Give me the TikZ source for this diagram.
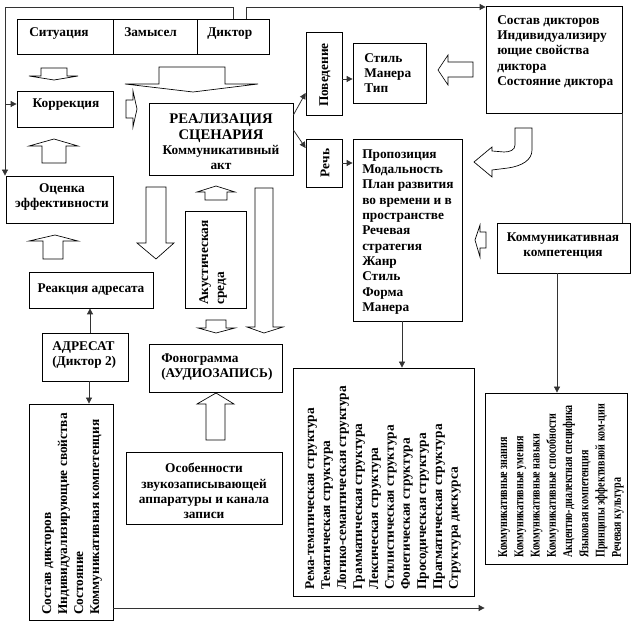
\documentclass[tikz,border=0pt]{standalone}
\usepackage{fontspec}
\setmainfont{Liberation Serif}
\newfontfamily\condfont[FakeStretch=0.75]{Liberation Serif Bold}
\usetikzlibrary{arrows.meta,fit}
\begin{document}
\begin{tikzpicture}[x=0.75pt,y=-0.75pt,
  box/.style={draw, line width=0.6pt, inner sep=0pt},
  txt/.style={font=\fontsize{10}{11.5}\selectfont\bfseries, inner sep=0pt},
  rtxt/.style={font=\fontsize{10}{12}\selectfont\bfseries, inner sep=0pt, rotate=90, anchor=north west, align=left},
  conn/.style={draw=black!80, line width=0.6pt, -{Triangle[length=4.5pt,width=4.5pt]}},
  plain/.style={draw=black!80, line width=0.6pt},
  hollow/.style={draw, line width=0.5pt, fill=white}]
\useasboundingbox (0,0) rectangle (640,627);

% ---- boxes ----
\node[box, fit={(17,19)(113,54)}] (sit) {};
\node[box, fit={(113,19)(197,54)}] (zam) {};
\node[box, fit={(197,19)(269,54)}] (dik) {};
\node[txt, anchor=base west] (tsit) at (29,37) {Ситуация};
\node[txt, anchor=base west] (tzam) at (124,37) {Замысел};
\node[txt, anchor=base west] (tdik) at (207,37) {Диктор};

\node[box, fit={(17,91)(113,127)}] (korr) {};
\node[txt] (tkorr) at (66,105) {Коррекция};

\node[box, fit={(149,103)(293,175)}] (real) {};
\node[txt, align=center] (treal) at (221,142) {{\fontsize{11}{11.25}\selectfont РЕАЛИЗАЦИЯ}\\{\fontsize{11}{11.25}\selectfont СЦЕНАРИЯ}\\Коммуникативный\\акт};

\node[box, fit={(306,32)(342,115)}] (pov) {};
\node[txt, rotate=90] (tpov) at (325,75) {Поведение};

\node[box, fit={(353,43)(426,103)}] (stil) {};
\node[txt, anchor=west, align=left] (tstil) at (364,73) {Стиль\\Манера\\Тип};

\node[box, fit={(486,6)(622,113)}] (sost) {};
\node[txt, anchor=west, align=left, font=\fontsize{10}{11.6}\selectfont\bfseries] (tsost) at (497,52) {Состав дикторов\\Индивидуализиру\\ющие свойства\\диктора\\Состояние диктора};

\node[box, fit={(306,139)(342,187)}] (rech) {};
\node[txt, rotate=90] (trech) at (325,163) {Речь};

\node[box, fit={(353,139)(462,321)}] (prop) {};
\node[txt, anchor=west, align=left] (tprop) at (362,232) {Пропозиция\\Модальность\\План развития\\во времени и в\\пространстве\\Речевая\\стратегия\\Жанр\\Стиль\\Форма\\Манера};

\node[box, fit={(497,223)(630,273)}] (komp) {};
\node[txt, align=center] (tkomp) at (563,246) {Коммуникативная\\компетенция};

\node[box, fit={(6,176)(113,223)}] (otsen) {};
\node[txt, align=center] (totsen) at (62,197) {Оценка\\эффективности};

\node[box, fit={(29,272)(153,308)}] (reak) {};
\node[txt] (treak) at (91,290) {Реакция адресата};

\node[box, fit={(42,333)(128,381)}] (adr) {};
\node[txt, anchor=west, align=left] (tadr) at (52,355) {АДРЕСАТ\\(Диктор 2)};

\node[box, fit={(185,211)(246,308)}] (akus) {};
\node[rtxt] (takus) at (199,305) {Акустическая\\среда};

\node[box, fit={(149,344)(282,392)}] (fono) {};
\node[txt, anchor=west, align=left] (tfono) at (161,367) {Фонограмма\\(АУДИОЗАПИСЬ)};

\node[box, fit={(126,452)(282,524)}] (osob) {};
\node[txt, align=center] (tosob) at (204,491) {Особенности\\звукозаписывающей\\аппаратуры и канала\\записи};

\node[box, fit={(29,404)(113,620)}] (adrsv) {};
\node[rtxt] (tadrsv) at (42,615) {Состав дикторов\\Индивидуализирующие свойства\\Состояние\\Коммуникативная компетенция};

\node[box, fit={(293,368)(474,596)}] (rema) {};
\node[rtxt] (trema) at (305,590) {Рема-тематическая структура\\Тематическая структура\\Логико-семантическая структура\\Грамматическая структура\\Лексическая структура\\Стилистическая структура\\Фонетическая структура\\Просодическая структура\\Прагматическая структура\\Структура дискурса};

\node[box, fit={(485,393)(627,564)}] (kzn) {};
\node[rtxt, font=\fontsize{10}{12.2}\selectfont\condfont] (tkzn) at (498,558) {Коммуникативные знания\\Коммуникативные умения\\Коммуникативные навыки\\Коммуникативные способности\\Акцентно-диалектная специфика\\Языковая компетенция\\Принципы эффективной ком-ции\\Речевая культура};

% ---- connectors ----
\coordinate (c1) at (233,7);
\coordinate (c2) at (5,7);
\coordinate (c3) at (5,104);
\coordinate (c4) at (246,7);
\draw[plain] (dik.north) -- (c1) -- (c2) -- (c3);
\draw[conn] (c3) -- (c3 |- otsen.north);
\draw[conn] (c3) -- (c3 -| korr.west);
\draw[conn] (dik.north -| c4) -- (c4) -- (c4 -| sost.west);
\draw[plain] (sost.south east) -- (sost.east |- komp.north);

\draw[conn] (real.east |- 0,115) -- (pov.west |- 0,93);
\draw[conn] (real.east |- 0,130) -- (rech.west |- 0,148);
\draw[conn] (pov.east |- 0,79) -- (stil.west |- 0,79);
\draw[conn] (rech.east |- 0,163) -- (prop.west |- 0,163);
\draw[conn] (prop.south -| 402,0) -- (rema.north -| 402,0);
\draw[conn] (komp.south -| 557,0) -- (kzn.north -| 557,0);
\draw[conn] (adrsv.east |- 0,608) -- (kzn.west |- 0,608);
\draw[conn] (adr.north -| 90,0) -- (reak.south -| 90,0);
\draw[conn] (adr.south -| 89,0) -- (adrsv.north -| 89,0);

% ---- hollow arrows ----
\draw[hollow] (41,68)--(67,68)--(67,76)--(78,76)--(54,80)--(29,76)--(41,76)--cycle;
\draw[hollow] (159,67)--(225,67)--(225,84)--(258,84)--(193,92)--(125,84)--(159,84)--cycle;
\draw[hollow] (126,100)--(133,100)--(133,91)--(137,109)--(133,127)--(133,118)--(126,118)--cycle;
\draw[hollow] (42,163)--(42,146)--(29,146)--(54,139)--(78,146)--(66,146)--(66,163)--cycle;
\draw[hollow] (43,259)--(43,241)--(29,241)--(55,235)--(78,241)--(63,241)--(63,259)--cycle;
\draw[hollow] (146,187)--(166,187)--(166,243)--(174,243)--(156,259)--(137,243)--(146,243)--cycle;
\draw[hollow] (205,200)--(205,192)--(197,192)--(216,186)--(235,192)--(227,192)--(227,200)--cycle;
\draw[hollow] (206,320)--(226,320)--(226,328)--(235,328)--(216,333)--(198,328)--(206,328)--cycle;
\draw[hollow] (255,188)--(273,188)--(273,327)--(283,327)--(264,333)--(247,327)--(255,327)--cycle;
\draw[hollow] (206,440)--(206,404)--(197,404)--(216,393)--(234,404)--(225,404)--(225,440)--cycle;
\draw[hollow] (473,62)--(448,62)--(448,55)--(438,70)--(448,85)--(448,77)--(473,77)--cycle;
\draw[hollow] (486,232)--(480,232)--(480,225)--(475,240)--(480,257)--(480,248)--(486,248)--cycle;
\draw[hollow] (515,128) -- (515,145) .. controls (515,150) and (510,152) .. (504,152) -- (492,151) -- (492,147) -- (474,162) -- (492,177) -- (492,170) -- (508,168) .. controls (522,166) and (532,160) .. (532,150) -- (532,128) -- cycle;
\end{tikzpicture}
\end{document}
